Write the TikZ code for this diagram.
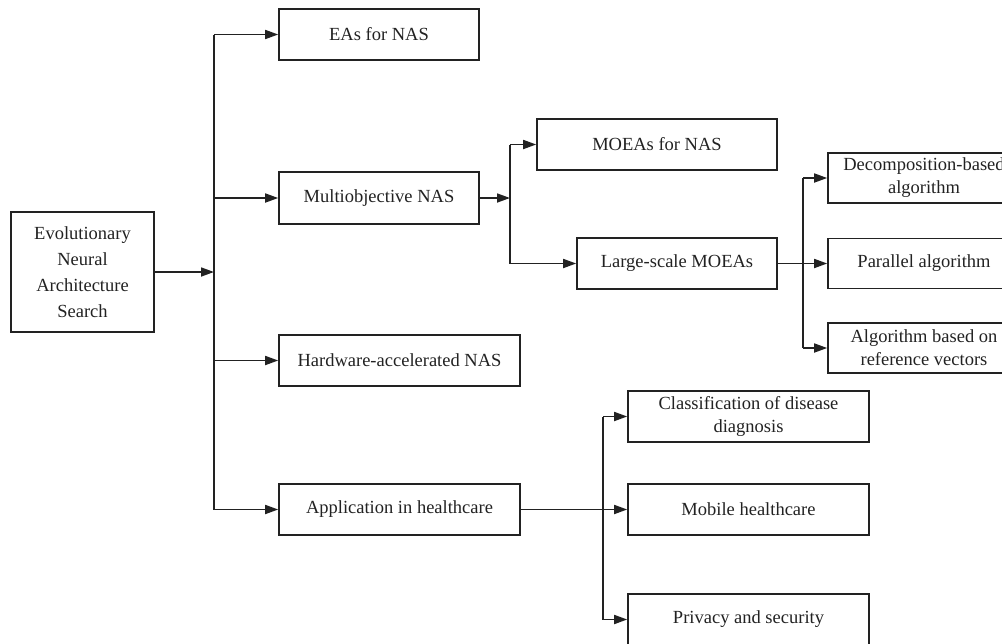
\documentclass[tikz,border=0pt]{standalone}
\usepackage{fontspec}
\setmainfont{Liberation Serif}
\usetikzlibrary{arrows.meta}
\definecolor{ink}{HTML}{222222}
\begin{document}
\begin{tikzpicture}[x=1pt,y=-1pt,
  box/.style={draw=ink,line width=1.6pt,text=ink,align=center,inner sep=0pt,
    font=\fontsize{18.5}{26}\selectfont},
  link/.style={draw=ink,line width=1.7pt},
  arr/.style={link,-{Triangle[length=13pt,width=9pt]}}]
\useasboundingbox (0,0) rectangle (1002,643);
\clip (0,0) rectangle (1002,643);
% boxes
\node[box,minimum width=143pt,minimum height=120pt] (root) at (82.5,272) {Evolutionary\\Neural\\Architecture\\Search};
\node[box,minimum width=200pt,minimum height=51pt] (eas) at (379,34.5) {EAs for NAS};
\node[box,minimum width=200pt,minimum height=52pt] (multi) at (379,198) {Multiobjective NAS};
\node[box,minimum width=241pt,minimum height=51pt] (hw) at (399.5,360.5) {Hardware-accelerated NAS};
\node[box,minimum width=241pt,minimum height=51pt] (app) at (399.5,509.5) {Application in healthcare};
\node[box,minimum width=240pt,minimum height=51pt] (moeas) at (657,144.5) {MOEAs for NAS};
\node[box,minimum width=200pt,minimum height=51pt] (large) at (677,263.5) {Large-scale MOEAs};
\node[box,minimum width=192pt,minimum height=50pt] (decomp) at (924,178) {Decomposition-based\\[-3pt]algorithm};
\node[box,minimum width=192pt,minimum height=50pt] (para) at (924,263.5) {Parallel algorithm};
\node[box,minimum width=192pt,minimum height=50pt] (refv) at (924,348) {Algorithm based on\\[-3pt]reference vectors};
\node[box,minimum width=241pt,minimum height=51pt] (cls) at (748.5,416.5) {Classification of disease\\[-3pt]diagnosis};
\node[box,minimum width=241pt,minimum height=51pt] (mob) at (748.5,509.5) {Mobile healthcare};
\node[box,minimum width=241pt,minimum height=51pt] (priv) at (748.5,619.5) {Privacy and security};
% branch points
\coordinate (t0) at (214,0);
\coordinate (t1) at (510,0);
\coordinate (t2) at (803,0);
\coordinate (t3) at (603,0);
% root branch
\draw[arr] (root.east) -- (root.east -| t0);
\draw[link] (t0 |- eas.west) -- (t0 |- app.west);
\foreach \n in {eas,multi,hw,app} \draw[arr] (t0 |- \n.west) -- (\n.west);
% multiobjective branch
\draw[arr] (multi.east) -- (multi.east -| t1);
\draw[link] (t1 |- moeas.west) -- (t1 |- large.west);
\foreach \n in {moeas,large} \draw[arr] (t1 |- \n.west) -- (\n.west);
% large-scale branch
\draw[arr] (large.east) -- (para.west);
\draw[link] (t2 |- decomp.west) -- (t2 |- refv.west);
\foreach \n in {decomp,refv} \draw[arr] (t2 |- \n.west) -- (\n.west);
% healthcare branch
\draw[arr] (app.east) -- (mob.west);
\draw[link] (t3 |- cls.west) -- (t3 |- priv.west);
\foreach \n in {cls,priv} \draw[arr] (t3 |- \n.west) -- (\n.west);
\end{tikzpicture}
\end{document}
